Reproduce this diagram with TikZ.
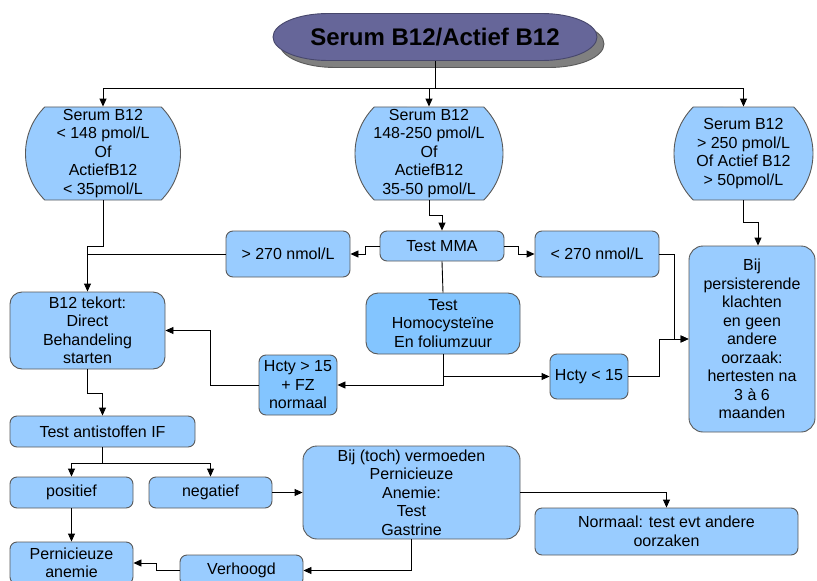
\documentclass[tikz,border=0pt]{standalone}
\usepackage{fontspec}
\setmainfont{Liberation Sans}
\usetikzlibrary{arrows.meta,shapes.misc}
\definecolor{boxblue}{HTML}{99CCFF}
\definecolor{hctyblue}{HTML}{83C5FF}
\definecolor{titlefill}{HTML}{666699}
\definecolor{titleshadow}{HTML}{808080}
\begin{document}
\begin{tikzpicture}
    [x=1pt,y=-1pt,line width=0.9pt,
     font=\fontsize{16}{18.5}\selectfont,
     box/.style={draw=black!65,fill=boxblue,rounded corners=7pt,align=center,inner sep=0pt},
     rangebox/.style={shape=rounded rectangle,rounded rectangle arc length=90,draw=black!65,
       fill=boxblue,align=center,inner sep=0pt,minimum height=93pt},
     arr/.style={->,>={Triangle[length=8pt,width=7pt]}}]
    \useasboundingbox (0,0) rectangle (817,581);
    \clip (0,0) rectangle (817,581);
    % title capsule with shadow
    \foreach \dx/\col in {7/titleshadow,0/titlefill}
      \path[fill=\col,draw=\col!70!black,shift={(\dx,\dx)}] (328,13.5) -- (542,13.5)
        .. controls (572.4,13.5) and (597,24) .. (597,37)
        .. controls (597,50) and (572.4,60.5) .. (542,60.5) -- (328,60.5)
        .. controls (297.6,60.5) and (273,50) .. (273,37)
        .. controls (273,24) and (297.6,13.5) .. (328,13.5) -- cycle;
    \node (title) [minimum height=47pt,inner sep=0pt,font=\fontsize{24}{28}\selectfont\bfseries]
      at (435,37) {Serum B12/Actief B12};
    % three ranges
    \node [rangebox,minimum width=155pt] (low) at (103,153.5)
      {Serum B12\\< 148 pmol/L\\Of\\ActiefB12\\< 35pmol/L};
    \node [rangebox,minimum width=148pt] (mid) at (429,153.5)
      {Serum B12\\148-250 pmol/L\\Of\\ActiefB12\\35-50 pmol/L};
    \node [rangebox,minimum width=139pt] (high) at (743.5,153.5)
      {Serum B12\\> 250 pmol/L\\Of Actief B12\\> 50pmol/L};
    \draw (title.south) -- ++(0,27.5) coordinate (bus);
    \draw [arr] (bus) -| (low.north);
    \draw [arr] (bus) -| (mid.north);
    \draw [arr] (bus) -| (high.north);
    % MMA
    \node [box,minimum width=124pt,minimum height=30pt] (mma) at (442,246) {Test MMA};
    \node [box,minimum width=124pt,minimum height=46pt] (hi270) at (288,254) {> 270 nmol/L};
    \node [box,minimum width=124pt,minimum height=46pt] (lo270) at (597,254) {< 270 nmol/L};
    \node [box,rounded corners=12pt,minimum width=155pt,minimum height=77pt] (tekort) at (87.5,330.5)
      {B12 tekort:\\Direct\\Behandeling\\starten};
    \node [box,rounded corners=14pt,minimum width=126pt,minimum height=186pt] (persist) at (752,339)
      {Bij\\persisterende\\klachten\\en geen\\andere\\oorzaak:\\hertesten na\\3 à 6\\maanden};
    \draw [arr] (mid.south) -- ++(0,15) -| (mma.north);
    \draw [arr] (mma.west) -- ++(-14,0) |- (hi270.east);
    \draw [arr] (mma.east) -- ++(14,0) |- (lo270.west);
    \draw [arr] (low.south) -- ++(0,46) -| (tekort.north);
    \draw (hi270.west) -- (hi270.west -| tekort.north);
    \draw [arr] (high.south) -- ++(0,22) -| ([xshift=6pt]persist.north);
    \draw [arr] (lo270.east) -- ++(15,0) |- (persist.west);
    % homocysteine
    \node [box,rounded corners=12pt,fill=hctyblue,minimum width=154pt,minimum height=61pt] (homo)
      at (443,323.5) {Test\\Homocysteïne\\En foliumzuur};
    \node [box,fill=hctyblue,minimum width=78pt,minimum height=60pt] (hi15) at (298,385)
      {Hcty > 15\\+ FZ\\normaal};
    \node [box,fill=hctyblue,minimum width=78pt,minimum height=45pt] (lo15) at (589,376.5) {Hcty < 15};
    \draw (mma.south) -- (homo.north);
    \draw [arr] (homo.south) |- (hi15.east);
    \draw [arr] (homo.south) |- (lo15.west);
    \draw [arr] (hi15.west) -- ++(-48,0) |- (tekort.east);
    \draw [arr] (lo15.east) -- ++(31,0) |- (persist.west);
    % antistoffen
    \node [box,minimum width=185pt,minimum height=31pt] (antis) at (102.5,431.5) {Test antistoffen IF};
    \node [box,minimum width=123pt,minimum height=31pt] (pos) at (71.5,492.5) {positief};
    \node [box,minimum width=123pt,minimum height=31pt] (neg) at (210.5,492.5) {negatief};
    \node [box,rounded corners=14pt,minimum width=217pt,minimum height=93pt] (bij) at (411.5,492.5)
      {Bij (toch) vermoeden\\Pernicieuze\\Anemie:\\Test\\Gastrine};
    \node [box,minimum width=263pt,minimum height=47pt] (normaal) at (666.5,531.5)
      {Normaal: test evt andere\\oorzaken};
    \node [box,minimum width=123pt,minimum height=31pt] (verh) at (241.5,570.5) {Verhoogd};
    \node [box,minimum width=123pt,minimum height=42pt] (pa) at (71.5,563) {Pernicieuze\\anemie};
    \draw [arr] (tekort.south) -- ++(0,24) -| (antis.north);
    \draw (antis.south) -- ++(0,16) coordinate (split);
    \draw [arr] (split) -| (pos.north);
    \draw [arr] (split) -| (neg.north);
    \draw [arr] (neg.east) -- (bij.west);
    \draw [arr] (bij.east) -| (normaal.north);
    \draw [arr] (bij.south) |- (verh.east);
    \draw [arr] (verh.west) -- ++(-23,0) |- (pa.east);
    \draw [arr] (pos.south) -- (pa.north);
  \end{tikzpicture}
\end{document}
